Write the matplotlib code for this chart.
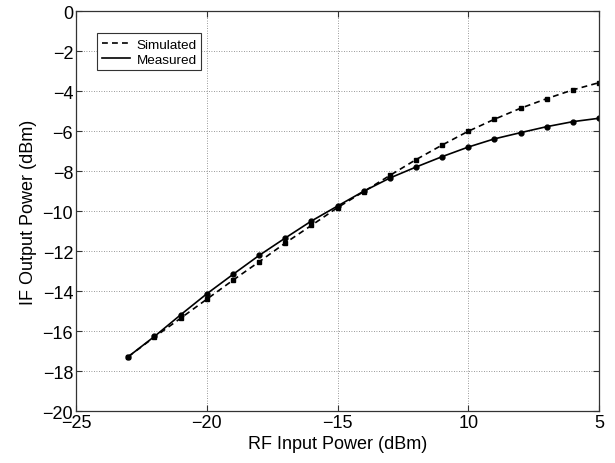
import numpy as np
import matplotlib.pyplot as plt

plt.rcParams['font.family'] = ['Liberation Sans', 'DejaVu Sans']

# RF input power (dBm), one point per dB
rf_in = [-23, -22, -21, -20, -19, -18, -17, -16, -15, -14,
         -13, -12, -11, -10, -9, -8, -7, -6, -5]

simulated = [-17.28, -16.30, -15.36, -14.41, -13.46, -12.54, -11.60, -10.72, -9.83, -9.03,
             -8.22, -7.43, -6.70, -6.01, -5.41, -4.86, -4.38, -3.94, -3.58]
measured = [-17.28, -16.27, -15.19, -14.14, -13.17, -12.22, -11.35, -10.50, -9.75, -9.01,
            -8.35, -7.80, -7.28, -6.80, -6.39, -6.08, -5.78, -5.53, -5.36]

xticks = [-25, -20, -15, -10, -5]
xticklabels = ['\u221225', '\u221220', '\u221215', '10', '5']
yticks = np.arange(-20, 1, 2)

fig = plt.figure(figsize=(6.15, 4.64), dpi=100)
ax = fig.add_axes([0.1236, 0.112, 0.8504, 0.862])

ax.plot(rf_in, simulated, 'k--', lw=1.2, dashes=(3.5, 2.5), label='Simulated')
ax.plot(rf_in, simulated, 'ks', ms=2.5, ls='none')
ax.plot(rf_in, measured, 'k-', lw=1.2, label='Measured')
ax.plot(rf_in, measured, 'ko', ms=3.5, ls='none')

ax.set_xlim(-25, -5)
ax.set_ylim(-20, 0)
ax.set_xticks(xticks)
ax.set_xticklabels(xticklabels)
ax.set_yticks(yticks)
ax.set_yticklabels([str(v).replace('-', '\u2212') for v in yticks])

ax.grid(True, ls=(0, (1, 2)), color='#777777', lw=0.6)
ax.tick_params(direction='in', length=4, labelsize=13, pad=2, top=True, right=True,
               labeltop=False, labelright=False, color='#333333')
for s in ax.spines.values():
    s.set_linewidth(0.9)
    s.set_color('#333333')

ax.set_xlabel('RF Input Power (dBm)', fontsize=13, labelpad=3)
ax.set_ylabel('IF Output Power (dBm)', fontsize=13, labelpad=4)

leg = ax.legend(loc='upper left', bbox_to_anchor=(0.041, 0.944), borderaxespad=0,
                fontsize=9.7, fancybox=False, framealpha=1, edgecolor='#333333',
                handlelength=2.1, handletextpad=0.45, borderpad=0.35, labelspacing=0.2)
leg.get_frame().set_linewidth(0.8)

fig.savefig('out.png', dpi=100)
